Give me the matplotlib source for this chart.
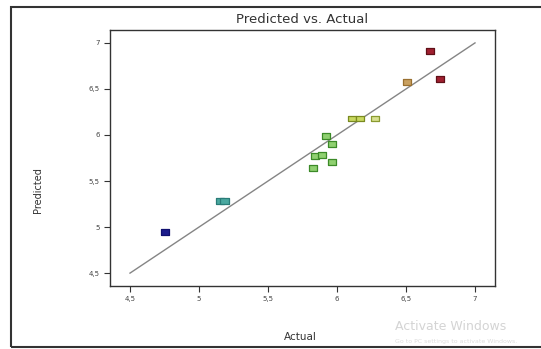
import matplotlib
matplotlib.use("Agg")
import matplotlib.pyplot as plt
from matplotlib.patches import Rectangle

# Actual vs predicted values
actual = [4.754, 5.150, 5.185, 5.826, 5.841, 5.891, 5.920, 5.964, 5.964,
          6.109, 6.167, 6.275, 6.507, 6.674, 6.746]
predicted = [4.946, 5.283, 5.283, 5.641, 5.772, 5.783, 5.989, 5.902, 5.707,
             6.178, 6.178, 6.178, 6.576, 6.913, 6.609]
face_colors = ["#1c1c8c", "#4aa8a0", "#4aa8a0", "#8fd070", "#8fd070", "#8fd070",
               "#8fd070", "#8fd070", "#8fd070", "#c8d860", "#c8d860", "#d8e090",
               "#c8a060", "#a02030", "#a02030"]
edge_colors = ["#101070", "#2a7c78", "#2a7c78", "#3c8a28", "#3c8a28", "#3c8a28",
               "#3c8a28", "#3c8a28", "#3c8a28", "#7a8a20", "#7a8a20", "#8a9a30",
               "#9a7030", "#601018", "#601018"]

ticks = [4.5, 5, 5.5, 6, 6.5, 7]
tick_labels = ["4,5", "5", "5,5", "6", "6,5", "7"]

fig = plt.figure(figsize=(5.41, 3.49), dpi=100)
fig.patches.append(Rectangle((0.02, 0.006), 0.985, 0.975, transform=fig.transFigure,
                             fill=False, edgecolor="#333333", linewidth=1.5))

ax = fig.add_axes([0.2033, 0.1805, 0.7117, 0.7335])
ax.plot([4.5, 7], [4.5, 7], color="#858585", linewidth=1.0, zorder=1)

rect = [(-1.5, -1), (1.5, -1), (1.5, 1), (-1.5, 1), (-1.5, -1)]
ax.scatter(actual, predicted, marker=rect, s=36, c=face_colors,
           edgecolors=edge_colors, linewidths=0.9, zorder=3)

ax.set_xlim(4.355, 7.145)
ax.set_ylim(4.36, 7.14)
ax.set_xticks(ticks)
ax.set_xticklabels(tick_labels)
ax.set_yticks(ticks)
ax.set_yticklabels(tick_labels)
ax.tick_params(direction="out", length=4, width=0.8, labelsize=5, colors="#333333",
               labelcolor="#444444")
for side in ["left", "bottom", "top", "right"]:
    ax.spines[side].set_color("#333333")
    ax.spines[side].set_linewidth(1.0)

ax.set_title("Predicted vs. Actual", fontsize=9.5, color="#333333", pad=5)
fig.text(0.07, 0.455, "Predicted", rotation=90, ha="center", va="center",
         fontsize=7, color="#333333")
fig.text(0.555, 0.035, "Actual", ha="center", va="center", fontsize=7.5, color="#333333")

# screenshot watermark
fig.text(0.73, 0.065, "Activate Windows", fontsize=9, color="#d4d4d4", ha="left", va="center")
fig.text(0.73, 0.022, "Go to PC settings to activate Windows.", fontsize=4.5,
         color="#dcdcdc", ha="left", va="center")

fig.savefig("out.png", dpi=100)
